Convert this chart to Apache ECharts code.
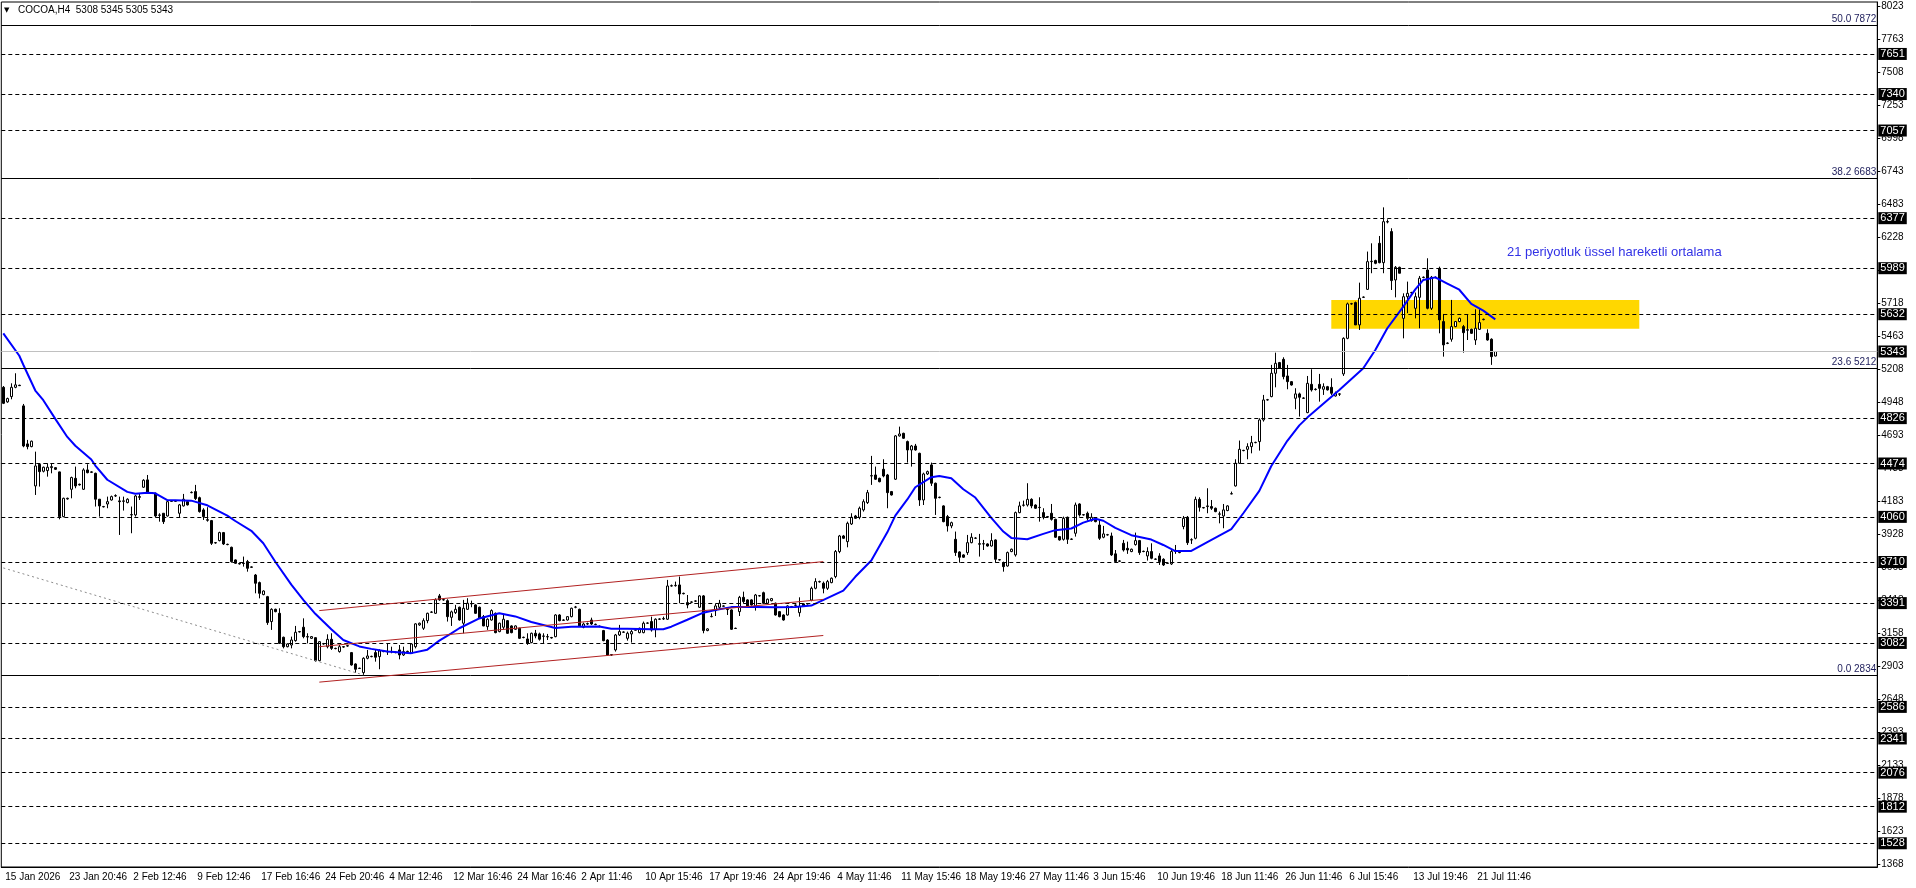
<!DOCTYPE html>
<html>
<head>
<meta charset="utf-8">
<title>COCOA,H4</title>
<script src="https://cdn.jsdelivr.net/npm/echarts@6/dist/echarts.min.js"></script>
<style>
	html, body { margin: 0; padding: 0; background: #fff; }
	#chart { width: 1916px; height: 888px; }
</style>
</head>
<body>
<div id="chart"></div>
<script>
	// x axis labels, one every 16 bars
	const xLabels = ['15 Jan 2026', '23 Jan 20:46', '2 Feb 12:46', '9 Feb 12:46', '17 Feb 16:46', '24 Feb 20:46',
		'4 Mar 12:46', '12 Mar 16:46', '24 Mar 16:46', '2 Apr 11:46', '10 Apr 15:46', '17 Apr 19:46',
		'24 Apr 19:46', '4 May 11:46', '11 May 15:46', '18 May 19:46', '27 May 11:46', '3 Jun 15:46',
		'10 Jun 19:46', '18 Jun 11:46', '26 Jun 11:46', '6 Jul 15:46', '13 Jul 19:46', '21 Jul 11:46']
	const yTicks = [8023, 7763, 7508, 7253, 6998, 6743, 6483, 6228, 5973, 5718, 5463, 5208, 4948, 4693, 4438,
		4183, 3928, 3668, 3413, 3158, 2903, 2648, 2393, 2133, 1878, 1623, 1368]

	// H4 bars
	const opens = [
		5065,4952,4993,5065,5081,4921,4626,4605,4300,4468,
		4414,4419,4442,4442,4409,4062,4199,4274,4359,4313,
		4274,4424,4409,4398,4197,4140,4160,4191,4222,4184,
		4184,4171,4075,4075,4217,4290,4347,4248,4243,4075,
		4088,4067,4184,4181,4088,4145,4178,4248,4256,4209,
		4114,4038,4031,3860,3876,3938,3847,3824,3726,3698,
		3700,3713,3672,3609,3550,3457,3441,3248,3343,3312,
		3126,3053,3066,3100,3170,3204,3131,3118,3123,2945,
		3074,3053,3110,3040,3015,3053,3058,3007,2919,2886,
		2852,2963,2976,3007,2976,3015,3013,3015,3010,3028,
		2989,3013,3002,3053,3222,3196,3255,3320,3312,3447,
		3416,3410,3281,3317,3359,3235,3343,3388,3377,3359,
		3286,3209,3260,3312,3170,3204,3255,3214,3188,3196,
		3126,3113,3085,3157,3152,3136,3131,3124,3131,3299,
		3260,3260,3286,3359,3343,3204,3229,3260,3227,3212,
		3178,3105,2991,3028,3144,3165,3118,3152,3181,3162,
		3162,3235,3248,3188,3266,3268,3266,3524,3526,3532,
		3467,3395,3400,3406,3359,3447,3178,3286,3333,3359,
		3369,3343,3338,3196,3325,3436,3416,3416,3369,3447,
		3472,3390,3410,3390,3325,3299,3299,3364,3374,3317,
		3385,3385,3415,3506,3556,3545,3506,3550,3597,3791,
		3912,3868,4005,4067,4057,4114,4171,4377,4385,4359,
		4429,4385,4256,4352,4688,4708,4644,4579,4610,4553,
		4191,4393,4463,4321,4212,4145,4062,3990,3886,3788,
		3765,3783,3860,3894,3852,3850,3850,3834,3881,3728,
		3705,3679,3791,3765,4093,4150,4152,4196,4152,4134,
		4093,4062,4088,4041,3907,3886,4057,3888,3933,4160,
		4077,4088,4031,4049,3997,3902,3920,3912,3773,3718,
		3855,3816,3791,3845,3876,3793,3757,3791,3733,3757,
		3731,3702,3695,3791,3783,3985,4057,3881,3894,4196,
		4132,4140,4140,4127,4083,4067,4109,4238,4300,4476,
		4576,4584,4605,4636,4644,4812,4967,4993,5174,5257,
		5282,5153,5109,4980,5014,4982,4869,5088,5050,5088,
		5050,5070,5065,4998,5014,5169,5445,5712,5722,5549,
		5763,5825,6040,6048,6182,6032,6350,6273,5898,5996,
		5600,5768,5798,5678,5763,5917,5975,5678,5919,5988,
		5575,5408,5438,5536,5575,5536,5512,5515,5432,5515,
		5590,5484,5438,5308
	]
	const highs = [
		5075,4985,5096,5174,5085,4936,4657,4652,4566,4476,
		4450,4476,4476,4445,4411,4209,4209,4372,4450,4318,
		4437,4468,4414,4403,4199,4145,4217,4225,4235,4217,
		4217,4204,4140,4230,4243,4352,4385,4253,4248,4088,
		4090,4185,4190,4190,4160,4238,4185,4258,4308,4217,
		4127,4135,4036,3865,3945,3943,3852,3829,3730,3702,
		3752,3726,3676,3617,3558,3490,3447,3351,3348,3351,
		3131,3079,3131,3214,3175,3273,3157,3136,3126,3097,
		3082,3149,3157,3045,3066,3058,3066,3012,2924,2890,
		2971,3028,2983,3028,3033,3025,3074,3053,3015,3066,
		3053,3022,3080,3235,3240,3273,3317,3328,3428,3462,
		3425,3421,3333,3377,3364,3416,3429,3410,3382,3364,
		3299,3273,3343,3318,3240,3299,3260,3219,3219,3200,
		3131,3157,3162,3183,3162,3157,3152,3129,3305,3305,
		3265,3291,3356,3369,3348,3240,3240,3278,3232,3217,
		3183,3111,2996,3152,3222,3172,3170,3183,3188,3201,
		3248,3242,3286,3273,3273,3286,3571,3535,3558,3597,
		3472,3454,3405,3413,3452,3454,3196,3312,3385,3416,
		3374,3359,3343,3201,3447,3480,3421,3421,3462,3454,
		3480,3426,3431,3395,3330,3304,3374,3369,3381,3436,
		3390,3392,3519,3584,3565,3558,3571,3590,3803,3920,
		3920,4023,4088,4075,4140,4196,4269,4533,4450,4364,
		4507,4393,4261,4695,4760,4713,4652,4618,4626,4558,
		4403,4419,4481,4326,4217,4150,4075,4023,3946,3793,
		3770,3920,3933,3902,3928,3881,3855,3933,3886,3733,
		3713,3791,3814,4101,4178,4186,4321,4204,4157,4212,
		4127,4067,4160,4046,3912,4062,4062,3893,4171,4165,
		4082,4101,4088,4054,4036,3990,3928,3938,3803,3723,
		3881,3868,3814,3938,3881,3798,3824,3855,3738,3778,
		3739,3707,3803,3842,3791,4067,4067,3894,4217,4212,
		4137,4282,4191,4132,4101,4160,4150,4256,4507,4652,
		4580,4631,4688,4643,4825,5006,4975,5239,5334,5262,
		5298,5239,5114,5058,5024,4988,5153,5205,5058,5169,
		5096,5076,5135,5032,5019,5453,5722,5720,5730,5877,
		5770,6118,6182,6055,6239,6461,6368,6299,6006,6001,
		5794,5885,5806,5800,5929,5925,6066,5929,5925,6001,
		5634,5414,5743,5580,5606,5549,5626,5520,5670,5670,
		5598,5515,5445,5345
	]
	const lows = [
		4935,4945,4972,5058,5075,4600,4584,4600,4230,4295,
		4405,4372,4398,4424,4041,4057,4194,4204,4282,4303,
		4269,4398,4400,4140,4062,4133,4127,4186,4215,3920,
		4109,4165,3933,4062,4191,4285,4243,4240,4057,4023,
		4005,4062,4178,4176,4057,4140,4148,4243,4191,4093,
		4036,4023,3842,3852,3870,3842,3840,3705,3695,3690,
		3674,3635,3664,3467,3428,3452,3222,3183,3320,3074,
		3040,3048,3040,3092,3163,3118,3079,3113,2937,2940,
		3069,3040,3028,3033,3007,3045,3053,2906,2852,2880,
		2834,2955,2971,2937,2878,3010,2989,3002,3002,2955,
		2981,3008,2997,3040,3215,3183,3235,3315,3307,3410,
		3410,3248,3214,3307,3255,3157,3338,3359,3307,3268,
		3212,3183,3255,3157,3165,3183,3152,3157,3183,3113,
		3118,3067,3080,3118,3100,3079,3105,3116,3126,3250,
		3255,3255,3281,3351,3209,3196,3222,3222,3220,3204,
		3095,2981,2981,3015,3136,3160,3100,3085,3178,3157,
		3157,3230,3170,3126,3260,3260,3260,3519,3519,3390,
		3459,3351,3393,3400,3354,3157,3173,3281,3291,3343,
		3364,3299,3183,3191,3291,3390,3364,3372,3333,3442,
		3385,3385,3405,3294,3281,3255,3294,3357,3369,3286,
		3364,3380,3405,3498,3550,3467,3493,3545,3584,3778,
		3889,3824,3997,4044,4041,4101,4160,4308,4346,4328,
		4367,4127,4225,4346,4683,4665,4481,4450,4574,4145,
		4152,4385,4300,4075,4204,4018,3946,3972,3757,3705,
		3742,3765,3855,3889,3752,3803,3829,3829,3705,3721,
		3635,3674,3786,3752,4088,4140,4140,4127,4122,4023,
		4041,4055,4031,3897,3876,3876,3850,3881,3907,4062,
		4070,4031,4023,4018,3881,3894,3915,3757,3705,3711,
		3791,3773,3786,3837,3765,3786,3721,3731,3726,3687,
		3679,3695,3687,3773,3778,3964,3842,3850,3886,4101,
		4125,4088,4114,4096,4010,3972,4104,4235,4295,4471,
		4569,4507,4553,4631,4574,4799,4962,4988,5065,5208,
		5127,5050,5078,4895,4838,4975,4864,5032,5040,4954,
		5006,5040,5006,4993,4998,5153,5438,5706,5549,5510,
		5758,5820,5950,6020,6027,5950,6337,5820,5763,5950,
		5445,5640,5790,5600,5523,5911,5670,5665,5911,5484,
		5303,5400,5419,5531,5570,5334,5432,5479,5394,5510,
		5585,5427,5239,5305
	]
	const closes = [
		4941,4978,5065,5084,5078,4610,4605,4647,4455,4411,
		4445,4445,4450,4429,4062,4204,4204,4365,4300,4308,
		4424,4403,4406,4197,4145,4138,4178,4217,4225,4178,
		4181,4197,4078,4222,4212,4344,4248,4245,4067,4072,
		4023,4178,4181,4184,4153,4197,4153,4250,4202,4101,
		4062,4034,3855,3858,3938,3850,3845,3713,3700,3695,
		3698,3661,3669,3545,3467,3485,3240,3343,3325,3079,
		3053,3074,3105,3165,3168,3131,3128,3131,2945,3092,
		3077,3110,3040,3038,3053,3050,3061,2911,2878,2884,
		2963,2981,2978,2971,3020,3018,3017,3013,3007,2989,
		3015,3017,3074,3230,3235,3255,3312,3322,3416,3416,
		3418,3286,3323,3343,3260,3351,3390,3385,3312,3273,
		3214,3266,3333,3162,3235,3266,3157,3162,3214,3118,
		3124,3079,3157,3136,3111,3134,3129,3121,3299,3255,
		3258,3286,3351,3361,3214,3229,3232,3229,3225,3209,
		3100,2989,2989,3144,3170,3167,3157,3170,3183,3196,
		3235,3237,3183,3266,3268,3271,3524,3526,3529,3462,
		3464,3377,3398,3408,3447,3178,3191,3288,3369,3390,
		3367,3341,3188,3194,3436,3403,3369,3377,3454,3449,
		3390,3421,3426,3299,3286,3260,3369,3362,3376,3364,
		3369,3387,3506,3558,3558,3506,3558,3584,3791,3912,
		3894,4010,4057,4049,4127,4178,4248,4380,4352,4333,
		4377,4248,4230,4688,4703,4670,4579,4610,4579,4191,
		4393,4411,4321,4204,4210,4023,3990,4015,3783,3747,
		3747,3860,3902,3896,3848,3852,3834,3876,3731,3726,
		3674,3783,3809,4093,4145,4152,4196,4145,4127,4132,
		4057,4060,4041,3902,3881,4049,3886,3886,4152,4075,
		4075,4049,4057,4023,3894,3928,3922,3765,3713,3716,
		3803,3803,3809,3876,3783,3791,3791,3739,3731,3713,
		3687,3700,3791,3793,3786,4049,3860,3883,4196,4134,
		4130,4145,4127,4101,4081,4114,4145,4240,4476,4584,
		4574,4605,4636,4638,4812,4967,4969,5174,5251,5213,
		5148,5109,5083,5014,4988,4980,5096,5045,5048,5057,
		5070,5045,5019,5019,5012,5445,5712,5714,5549,5756,
		5765,6040,6043,6027,6032,6350,6348,5893,5996,5950,
		5768,5794,5800,5768,5911,5919,5678,5919,5917,5588,
		5394,5406,5536,5575,5600,5489,5508,5484,5523,5567,
		5593,5432,5303,5343
	]

	// 21 period EMA as [bar, value]
	const emaPoints = [[0,5484],[4,5310],[5,5240],[8,5040],[10,4965],[13,4820],[16,4680],[18,4612],[22,4505],
		[23,4458],[26,4348],[31,4254],[33,4240],[36,4248],[38,4243],[41,4190],[47,4186],[51,4150],[56,4070],
		[58,4028],[62,3952],[65,3855],[68,3712],[72,3535],[75,3416],[78,3308],[82,3188],[85,3105],[89,3055],
		[92,3036],[96,3015],[102,3003],[106,3030],[109,3100],[112,3156],[114,3196],[119,3272],[124,3312],
		[128,3288],[132,3245],[136,3213],[138,3198],[142,3208],[149,3209],[152,3193],[156,3193],[162,3188],
		[165,3188],[167,3208],[171,3262],[175,3317],[178,3337],[182,3360],[188,3360],[193,3358],[198,3360],
		[202,3372],[206,3430],[210,3488],[213,3595],[217,3722],[221,3940],[223,4070],[226,4195],[228,4290],
		[232,4368],[234,4377],[237,4359],[240,4274],[243,4210],[247,4052],[250,3946],[252,3897],[256,3887],
		[260,3928],[263,3957],[267,3970],[270,4015],[273,4046],[275,4030],[278,3975],[282,3918],[287,3884],
		[290,3842],[293,3795],[297,3796],[301,3865],[307,3965],[310,4088],[314,4262],[317,4455],[321,4650],
		[324,4770],[326,4830],[334,5045],[340,5213],[343,5355],[346,5523],[350,5691],[353,5825],[355,5898],
		[358,5918],[361,5870],[364,5822],[367,5712],[370,5660],[373,5592]]

	// horizontal levels
	const dashedLevels = [7651, 7340, 7057, 6377, 5989, 5632, 4826, 4474, 4060, 3710, 3391, 3082, 2586, 2341, 2076, 1812, 1528]
	const fiboLevels = [7872, 6683, 5212, 2834]
	const fiboNames = ['50.0', '38.2', '23.6', '0.0']
	const lastPrice = 5343
	// red channel, [bar, price] pairs
	const channelLines = [
		[[79, 3333], [205, 3713]],
		[[79, 3053], [205, 3420]],
		[[79, 2778], [205, 3140]]
	]
	const trendLine = [[0, 3664], [90, 2834]]
	const zoneBox = [[332, 5743], [409, 5520]]

	const slots = 469
	const font = '"Liberation Sans", Tahoma, sans-serif'

	let slotNames = []
	for (let i = 0; i < slots; i++) slotNames.push(String(i))
	let candleData = opens.map((o, i) => [o, closes[i], lows[i], highs[i]])

	let boxLabel = {
		show: true, position: 'end', distance: 1, color: '#fff', backgroundColor: '#000',
		padding: [1, 2, 0, 2], fontSize: 11, fontFamily: font
	}
	let levelLines = []
	dashedLevels.forEach(v => {
		levelLines.push({
			yAxis: v,
			lineStyle: { type: [4, 3], color: '#000', width: 1 },
			label: Object.assign({}, boxLabel, { formatter: String(v) })
		})
	})
	fiboLevels.forEach((v, k) => {
		levelLines.push({
			yAxis: v,
			lineStyle: { type: 'solid', color: '#000', width: 1 },
			label: {
				show: true, position: 'insideEndTop', distance: 1, color: '#1c1c5a',
				fontSize: 10, fontFamily: font, formatter: fiboNames[k] + ' ' + v
			}
		})
	})
	levelLines.push({
		yAxis: lastPrice,
		lineStyle: { type: 'solid', color: '#c0c0c0', width: 1 },
		label: Object.assign({}, boxLabel, { formatter: String(lastPrice) })
	})
	channelLines.forEach(l => {
		levelLines.push([
			{ coord: l[0], lineStyle: { color: '#b22222', width: 1, type: 'solid' }, label: { show: false } },
			{ coord: l[1] }
		])
	})
	levelLines.push([
		{ coord: trendLine[0], lineStyle: { color: '#8c8c8c', width: 1, type: [2, 3] }, label: { show: false } },
		{ coord: trendLine[1] }
	])

	let chart = echarts.init(document.getElementById('chart'))
	chart.setOption({
		animation: false,
		backgroundColor: '#fff',
		grid: {
			left: 1.3, right: 38.7, top: 2, bottom: 21,
			show: true, borderColor: '#000', borderWidth: 1
		},
		xAxis: {
			type: 'category',
			data: slotNames,
			boundaryGap: true,
			axisLine: { lineStyle: { color: '#000' } },
			axisTick: {
				alignWithLabel: true, length: 4, lineStyle: { color: '#000' },
				interval: (i) => i % 16 === 0 && i / 16 < xLabels.length
			},
			axisLabel: {
				interval: (i) => i % 16 === 0 && i / 16 < xLabels.length,
				formatter: (v, i) => xLabels[Math.round(i / 16)] || '',
				align: 'left', padding: [0, 0, 0, 2], margin: 5,
				color: '#000', fontSize: 10, fontFamily: font
			},
			splitLine: { show: false }
		},
		yAxis: {
			type: 'value',
			position: 'right',
			min: 1344, max: 8054,
			scale: true,
			splitLine: { show: false },
			axisLine: { show: true, lineStyle: { color: '#000' } },
			axisTick: { show: true, length: 3, customValues: yTicks, lineStyle: { color: '#000' } },
			axisLabel: {
				customValues: yTicks, formatter: (v) => String(v),
				color: '#000', fontSize: 10, fontFamily: font, margin: 4
			}
		},
		graphic: [
			{ type: 'text', left: 4, top: 7, style: { text: '▼', font: '7px "DejaVu Sans"', fill: '#000' } },
			{ type: 'text', left: 18, top: 5, style: { text: 'COCOA,H4  5308 5345 5305 5343', font: '10px ' + font, fill: '#000' } },
			{ type: 'text', left: 1507, top: 246, style: { text: '21 periyotluk üssel hareketli ortalama', font: '13px "Liberation Sans", Arial, sans-serif', fill: '#3232e6' } }
		],
		series: [
			{
				// yellow zone
				type: 'line', data: [], z: 1, silent: true,
				markArea: {
					silent: true,
					itemStyle: { color: '#ffd700', opacity: 1 },
					data: [[{ coord: zoneBox[0] }, { coord: zoneBox[1] }]]
				}
			},
			{
				type: 'line', data: [], z: 2, silent: true, clip: false,
				markLine: {
					silent: true, symbol: ['none', 'none'], animation: false,
					data: levelLines
				}
			},
			{
				type: 'candlestick',
				data: candleData,
				barWidth: 3,
				z: 3,
				itemStyle: {
					color: '#fff', color0: '#000',
					borderColor: '#000', borderColor0: '#000', borderWidth: 1
				}
			},
			{
				type: 'line',
				data: emaPoints,
				z: 4,
				showSymbol: false,
				lineStyle: { color: '#0000ff', width: 2 }
			}
		]
	})
</script>
</body>
</html>
